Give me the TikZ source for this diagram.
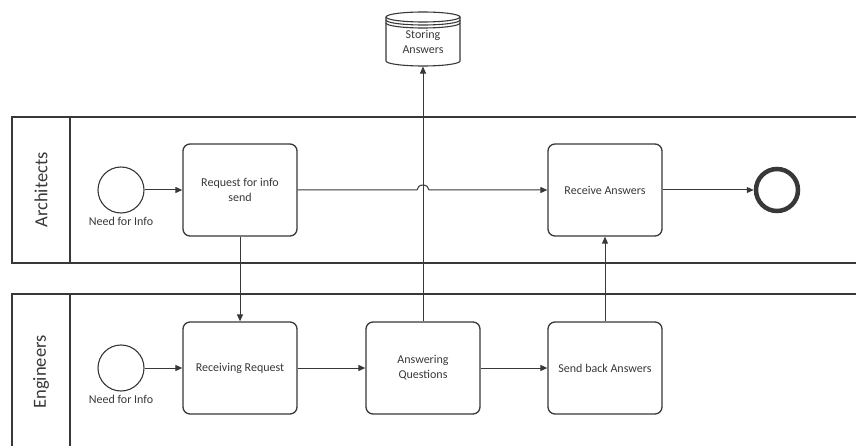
\documentclass[tikz,border=0pt]{standalone}
\usepackage{fontspec}
\setmainfont{Carlito}
\usetikzlibrary{arrows.meta}
\definecolor{linegray}{HTML}{383838}
\begin{document}
\begin{tikzpicture}[x=1pt, y=-1pt, color=linegray, line width=1.1pt,
    task/.style={draw, line width=1.3pt, rounded corners=7pt, minimum width=114pt, minimum height=92pt,
                 align=center, inner sep=2pt, font=\fontsize{12}{15}\selectfont},
    startevt/.style={draw, circle, minimum size=46pt, inner sep=0pt},
    endevt/.style={draw, circle, line width=4.5pt, minimum size=42pt, inner sep=0pt},
    flow/.style={line width=1pt, -{Triangle[length=7pt, width=6pt]}},
    lanename/.style={rotate=90, font=\fontsize{18.5}{20}\selectfont},
    smalltext/.style={font=\fontsize{12}{15}\selectfont}]
    \useasboundingbox (0,0) rectangle (856,446);
    % Swimlanes
    \draw (870,117) -- (12,117) -- (12,263) -- (870,263);
    \draw (70,117) -- (70,263);
    \draw (870,294) -- (12,294) -- (12,460);
    \draw (70,294) -- (70,460);
    \node[lanename] (laneA) at (41,190) {Architects};
    \node[lanename] (laneE) at (41,372) {Engineers};
    % Data store
    \draw (423,17) ellipse [x radius=37pt, y radius=5pt];
    \draw (386,20) arc [start angle=180, end angle=360, x radius=37pt, y radius=5pt];
    \draw (386,23) arc [start angle=180, end angle=360, x radius=37pt, y radius=5pt];
    \draw (386,17) -- (386,61) arc [start angle=180, end angle=360, x radius=37pt, y radius=5pt] -- (460,17);
    \node[smalltext, align=center, minimum width=74pt, minimum height=49pt, inner sep=0pt] (store) at (423,41.5) {Storing\\Answers};
    % Architects
    \node[startevt] (startA) at (121,190) {};
    \node[smalltext, below] (needA) at (startA.south) {Need for Info};
    \node[task] (req) at (240,190) {Request for info\\send};
    \node[task] (recv) at (605,190) {Receive Answers};
    \node[endevt] (endA) at (777,190) {};
    % Engineers
    \node[startevt] (startE) at (121,368) {};
    \node[smalltext, below] (needE) at (startE.south) {Need for Info};
    \node[task] (rreq) at (240,368) {Receiving Request};
    \node[task] (ans) at (423,368) {Answering\\Questions};
    \node[task] (send) at (605,368) {Send back Answers};
    % Flows
    \draw[flow] (startA) -- (req);
    \draw[flow] (req.east) -- (417,190) arc [start angle=180, end angle=0, x radius=6pt, y radius=5pt] -- (recv.west);
    \draw[flow] (recv) -- (endA);
    \draw[flow] (req) -- (rreq);
    \draw[flow] (startE) -- (rreq);
    \draw[flow] (rreq) -- (ans);
    \draw[flow] (ans) -- (send);
    \draw[flow] (send) -- (recv);
    \draw[flow] (ans) -- (store);
\end{tikzpicture}
\end{document}
